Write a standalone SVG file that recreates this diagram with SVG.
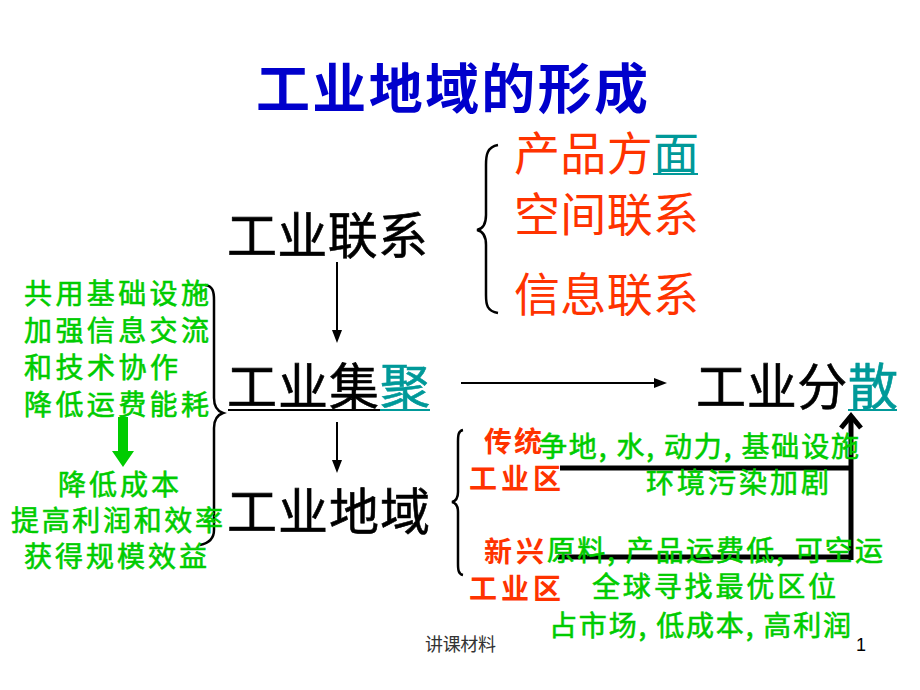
<svg xmlns="http://www.w3.org/2000/svg" width="920" height="690" viewBox="0 0 920 690">
<style>
text{font-family:"Noto Sans CJK SC","Noto Sans CJK JP",sans-serif;}
.title{font-size:54px;font-weight:bold;fill:#0000CC;}
.main{font-size:50px;fill:#000;stroke:#000;stroke-width:0.6;}
.teal{fill:#009999;stroke:#009999;}
.red{font-size:46px;fill:#FF3300;}
.red .teal{stroke:none;}
.redb{font-size:28px;font-weight:bold;fill:#FF3300;}
.grn{font-size:28px;fill:#00CC00;stroke:#00CC00;stroke-width:0.6;}
.foot{font-size:18px;fill:#333;}
.brace{fill:none;stroke:#000;stroke-width:2.5;}
.thin{stroke:#000;stroke-width:2;fill:none;}
.thick{stroke:#000;stroke-width:5;fill:none;}
</style>
<rect width="920" height="690" fill="#fff"/>

<g id="title"><text class="title" x="256" y="109" textLength="392" lengthAdjust="spacing">工业地域的形成</text></g>

<g id="connectors">
  <line class="thin" x1="337" y1="262" x2="337" y2="332"/>
  <polygon points="332,330 342,330 337,343" fill="#000"/>
  <line class="thin" x1="337" y1="422" x2="337" y2="462"/>
  <polygon points="332,460 342,460 337,473" fill="#000"/>
  <line class="thin" x1="461" y1="383" x2="656" y2="383"/>
  <polygon points="654,378 654,388 667,383" fill="#000"/>
  <path class="brace" d="M498,145 C487,147 486,155 486,165 L486,215 C486,225 482,229 477,230 C482,231 486,235 486,245 L486,295 C486,305 487,311 498,313"/>
  <path class="brace" d="M205,285 C213,286 214,292 214,300 L214,398 C214,406 217,411 223,413 C217,415 214,420 214,428 L214,530 C214,538 210,543 200,545"/>
  <path class="brace" stroke-width="3" d="M463,430 C458,431 458,436 458,442 L458,492 C458,498 456,501 452,502 C456,503 458,506 458,512 L458,563 C458,569 458,574 463,575"/>
  <path class="thick" d="M560,468 H851"/>
  <path class="thick" d="M558,557 H851"/>
  <path class="thick" d="M851,560 V417"/>
  <polyline class="thick" points="841,428 851,416 861,428"/>
  <rect x="118" y="417" width="10" height="36" fill="#00CC00"/>
  <polygon points="112,451 134,451 123,467" fill="#00CC00"/>
</g>

<g id="n-lianxi"><text class="main" x="227" y="254" textLength="201" lengthAdjust="spacing">工业联系</text></g>

<g id="n-jiju">
  <text class="main" x="227" y="405" textLength="203" lengthAdjust="spacing">工业集<tspan class="teal">聚</tspan></text>
  <line x1="228" y1="410" x2="380" y2="410" stroke="#000" stroke-width="2"/>
  <line x1="380" y1="410" x2="430" y2="410" stroke="#009999" stroke-width="2"/>
</g>

<g id="n-fensan">
  <text class="main" x="696" y="405" textLength="202" lengthAdjust="spacing">工业分<tspan class="teal">散</tspan></text>
  <line x1="848" y1="410" x2="897" y2="410" stroke="#009999" stroke-width="2"/>
</g>

<g id="n-diyu"><text class="main" x="227" y="530" textLength="203" lengthAdjust="spacing">工业地域</text></g>

<g id="n-lianxi-types">
  <text class="red" x="514" y="170" textLength="185" lengthAdjust="spacing">产品方<tspan class="teal">面</tspan></text>
  <line x1="653" y1="174" x2="698" y2="174" stroke="#009999" stroke-width="2"/>
  <text class="red" x="514" y="231" textLength="185" lengthAdjust="spacing">空间联系</text>
  <text class="red" x="514" y="311" textLength="185" lengthAdjust="spacing">信息联系</text>
</g>

<g id="n-jiju-reasons">
  <text class="grn" x="24" y="304" textLength="185" lengthAdjust="spacing">共用基础设施</text>
  <text class="grn" x="24" y="341" textLength="185" lengthAdjust="spacing">加强信息交流</text>
  <text class="grn" x="24" y="378" textLength="154" lengthAdjust="spacing">和技术协作</text>
  <text class="grn" x="24" y="415" textLength="185" lengthAdjust="spacing">降低运费能耗</text>
</g>

<g id="n-jiju-results">
  <text class="grn" x="58" y="495" textLength="121" lengthAdjust="spacing">降低成本</text>
  <text class="grn" x="11" y="531" textLength="212" lengthAdjust="spacing">提高利润和效率</text>
  <text class="grn" x="24" y="567" textLength="183" lengthAdjust="spacing">获得规模效益</text>
</g>

<g id="n-traditional">
  <text class="redb" x="484" y="452" textLength="58" lengthAdjust="spacing">传统</text>
  <text class="redb" x="469" y="489" textLength="92" lengthAdjust="spacing">工业区</text>
  <text class="grn" x="539" y="457" textLength="320" lengthAdjust="spacing">争地, 水, 动力, 基础设施</text>
  <text class="grn" x="646" y="493" textLength="183" lengthAdjust="spacing">环境污染加剧</text>
</g>

<g id="n-emerging">
  <text class="redb" x="484" y="562" textLength="60" lengthAdjust="spacing">新兴</text>
  <text class="redb" x="469" y="599" textLength="92" lengthAdjust="spacing">工业区</text>
  <text class="grn" x="547" y="561" textLength="336" lengthAdjust="spacing">原料, 产品运费低, 可空运</text>
  <text class="grn" x="592" y="597" textLength="244" lengthAdjust="spacing">全球寻找最优区位</text>
  <text class="grn" x="549" y="636" textLength="302" lengthAdjust="spacing">占市场, 低成本, 高利润</text>
</g>

<g id="footer">
  <text class="foot" x="425" y="651" textLength="71" lengthAdjust="spacing">讲课材料</text>
  <text class="foot" x="856" y="651" style="font-family:'Liberation Sans',sans-serif;fill:#000">1</text>
</g>
</svg>
